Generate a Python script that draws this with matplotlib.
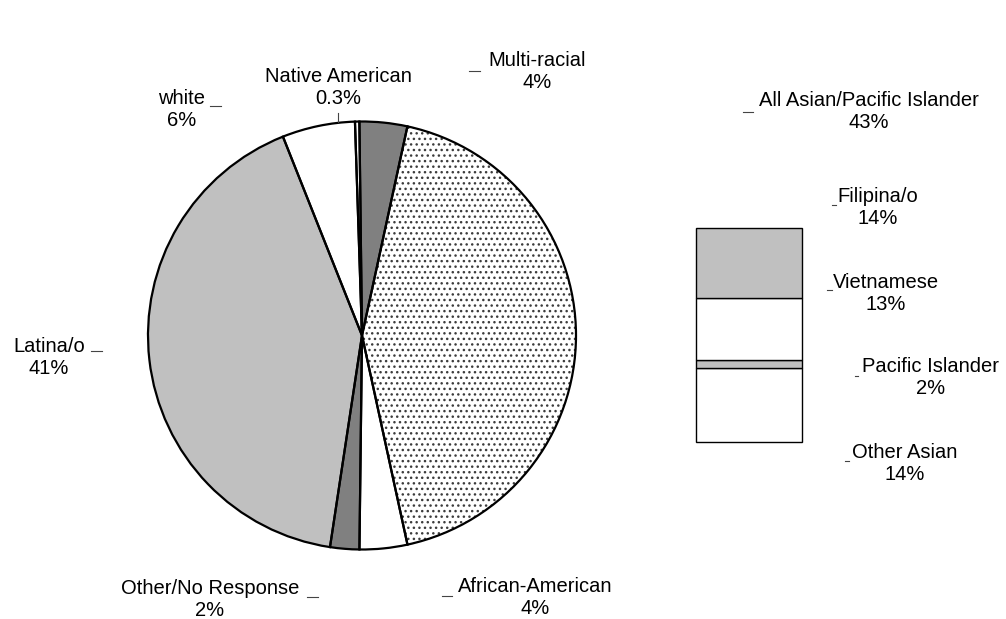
import matplotlib.pyplot as plt
import numpy as np

# whole-school breakdown, clockwise from the top of the pie
groups = ['Multi-racial', 'All Asian/Pacific Islander', 'African-American',
          'Other/No Response', 'Latina/o', 'white', 'Native American']
shares = [3.6, 43.2, 3.6, 2.2, 41.6, 5.5, 0.33]
share_labels = ['4%', '43%', '4%', '2%', '41%', '6%', '0.3%']
fills = ['#808080', 'white', 'white', '#808080', '#c0c0c0', 'white', 'white']

# Asian/Pacific Islander split, bottom to top of the bar
asian_groups = ['Other Asian', 'Pacific Islander', 'Vietnamese', 'Filipina/o']
asian_shares = [14.8, 1.7, 12.5, 14.1]
asian_labels = ['14%', '2%', '13%', '14%']
asian_fills = ['white', '#c0c0c0', 'white', '#c0c0c0']

W, H = 1006, 619
plt.rcParams['font.family'] = ['Liberation Sans', 'DejaVu Sans']
plt.rcParams['font.size'] = 14.5

fig = plt.figure(figsize=(W / 100, H / 100), dpi=100)
ax = fig.add_axes([0, 0, 1, 1])

cx, cy, r = 362, H - 335.5, 214
# fills + dotted pattern first (grey hatch), then the black outlines on top
wedges, _ = ax.pie(shares, colors=fills, startangle=90.7, counterclock=False,
                   center=(cx, cy), radius=r,
                   wedgeprops=dict(edgecolor='#3c3c3c', linewidth=0))
wedges[1].set_hatch('...')
ax.pie(shares, colors=['none'] * len(shares), startangle=90.7,
       counterclock=False, center=(cx, cy), radius=r,
       wedgeprops=dict(edgecolor='black', linewidth=1.6))
ax.set_xlim(0, W)
ax.set_ylim(0, H)
ax.axis('off')

# label centres in pixels (y from the top)
pie_pos = [(537, 72), (869, 111), (535, 598), (210, 600),
           (49, 357), (182, 110), (338, 88)]
for name, lab, (x, y) in zip(groups, share_labels, pie_pos):
    ax.text(x, H - y, '%s\n%s' % (name, lab), ha='center', va='center')

asian_pos = [(905, 463), (931, 378), (886, 293), (878, 208)]
for name, lab, (x, y) in zip(asian_groups, asian_labels, asian_pos):
    ax.text(x, H - y, '%s\n%s' % (name, lab), ha='center', va='center')

# little leader-line stubs next to the labels
stubs = [((469, 480), (71, 71)), ((743, 753), (112, 112)),
         ((442, 452), (596, 596)), ((307, 318), (597, 597)),
         ((91, 102), (351, 351)), ((210, 221), (106, 106)),
         ((338, 338), (113, 122)), ((832, 836), (205, 205)),
         ((827, 832), (290, 290)), ((855, 858), (376, 376)),
         ((845, 849), (461, 461))]
for xs, ys in stubs:
    ax.plot(xs, [H - y for y in ys], color='#444444', lw=0.8)

# stacked bar for the Asian/Pacific Islander slice
bx = fig.add_axes([696 / W, (H - 441.5) / H, 106 / W, 213.5 / H])
bottoms = np.concatenate([[0], np.cumsum(asian_shares)[:-1]])
bars = bx.bar(0, asian_shares, bottom=bottoms, width=1, color=asian_fills,
              edgecolor='black', linewidth=1)
for b in bars:
    b.set_clip_on(False)
bx.set_xlim(-0.5, 0.5)
bx.set_ylim(0, sum(asian_shares))
bx.axis('off')

fig.savefig('out.png', dpi=100)
